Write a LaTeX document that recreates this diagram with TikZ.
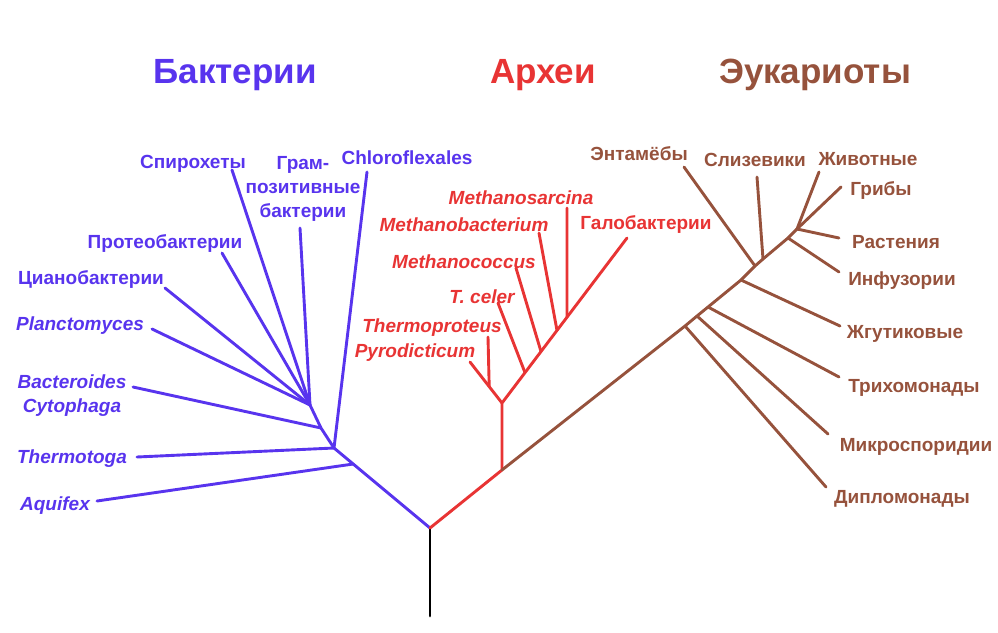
\documentclass[tikz,border=0pt]{standalone}
\usepackage{fontspec}
\setmainfont{Liberation Sans}
\usetikzlibrary{calc}
\definecolor{bactcol}{RGB}{88,52,238}
\definecolor{archcol}{RGB}{232,52,52}
\definecolor{eukcol}{RGB}{150,82,60}
\tikzset{
  branch/.style={line width=2.9pt, line cap=round, line join=round},
  taxon/.style={font=\fontsize{19}{24}\selectfont\bfseries, inner sep=0pt, align=center, yshift=-2.5pt},
  latin/.style={taxon, font=\fontsize{19}{24}\selectfont\bfseries\itshape},
  kingdomtitle/.style={font=\fontsize{35}{40}\selectfont\bfseries, inner sep=0pt, yshift=-4pt}
}

\begin{document}
\begin{tikzpicture}[x=1pt,y=-1pt]
    \useasboundingbox (0,0) rectangle (998,632);
    %
    \node[kingdomtitle, text=bactcol] (bact) at (235,71) {Бактерии};
    \node[kingdomtitle, text=archcol] (arch) at (543,71) {Археи};
    \node[kingdomtitle, text=eukcol]  (euk)  at (815,71) {Эукариоты};
    %
    % stem
    \coordinate (base) at (430,616);
    \coordinate (root) at (430,528);
    \draw[branch, black] (base)--(root);
    %
    % bacteria
    \coordinate (b1) at (334,448);
    \coordinate (b0) at ($(root)!0.8!(b1)$);
    \coordinate (b2) at (321,428);
    \coordinate (b3) at (310,405);
    \coordinate (spiro)   at (232,170);
    \coordinate (gram)    at (300,228);
    \coordinate (chloro)  at (367,172);
    \coordinate (proteo)  at (222,253);
    \coordinate (cyano)   at (165,288);
    \coordinate (plancto) at (152,329);
    \coordinate (bactero) at (133,387);
    \coordinate (thermo)  at (137,457);
    \coordinate (aquif)   at (97,501);
    \draw[branch, bactcol] (root)--(b1)--(b2)--(b3);
    \draw[branch, bactcol] (b0)--(aquif);
    \draw[branch, bactcol] (b1)--(thermo);
    \draw[branch, bactcol] (b1)--(chloro);
    \draw[branch, bactcol] (b2)--(bactero);
    \draw[branch, bactcol] (b3)--(gram);
    \draw[branch, bactcol] (b3)--(spiro);
    \draw[branch, bactcol] (b3)--(proteo);
    \draw[branch, bactcol] (b3)--(cyano);
    \draw[branch, bactcol] (b3)--(plancto);
    %
    \node[taxon, text=bactcol] (n-spiro)   at (193,161) {Спирохеты};
    \node[taxon, text=bactcol] (n-gram)    at (303,186) {Грам-\\позитивные\\бактерии};
    \node[taxon, text=bactcol] (n-chloro)  at (407,155) {Chloroflexales};
    \node[taxon, text=bactcol] (n-proteo)  at (165,241) {Протеобактерии};
    \node[taxon, text=bactcol] (n-cyano)   at (91,277) {Цианобактерии};
    \node[latin, text=bactcol] (n-plancto) at (80,323) {Planctomyces};
    \node[latin, text=bactcol] (n-bactero) at (72,393) {Bacteroides\\Cytophaga};
    \node[latin, text=bactcol] (n-thermo)  at (72,456) {Thermotoga};
    \node[latin, text=bactcol] (n-aquif)   at (55,503) {Aquifex};
    %
    % archaea
    \coordinate (a0) at (502,470);
    \coordinate (a1) at (502,403);
    \coordinate (halo)   at (627,238);
    \coordinate (pyro)   at (470,362);
    \coordinate (tprot)  at (488,337);
    \coordinate (celer)  at (498,303);
    \coordinate (mcocc)  at (516,268);
    \coordinate (mbact)  at (539,233);
    \coordinate (msarc)  at (567,208);
    \draw[branch, archcol] (root)--(a0)--(a1)--(halo);
    \draw[branch, archcol] (a1)--(pyro);
    \draw[branch, archcol] ($(a1)!0.4!(pyro)$)--(tprot);
    \draw[branch, archcol] ($(a1)!0.184!(halo)$)--(celer);
    \draw[branch, archcol] ($(a1)!0.312!(halo)$)--(mcocc);
    \draw[branch, archcol] ($(a1)!0.44!(halo)$)--(mbact);
    \draw[branch, archcol] ($(a1)!0.52!(halo)$)--(msarc);
    %
    \node[latin, text=archcol] (n-msarc) at (521,195) {Methanosarcina};
    \node[latin, text=archcol] (n-mbact) at (464,222) {Methanobacterium};
    \node[taxon, text=archcol] (n-halo)  at (646,222) {Галобактерии};
    \node[latin, text=archcol] (n-mcocc) at (464,259) {Methanococcus};
    \node[latin, text=archcol] (n-celer) at (482,294) {T. celer};
    \node[latin, text=archcol] (n-tprot) at (432,325) {Thermoproteus};
    \node[latin, text=archcol] (n-pyro)  at (415,350) {Pyrodicticum};
    %
    % eukaryotes
    \coordinate (e1) at (685,326);
    \coordinate (e2) at (697,316);
    \coordinate (e3) at (708,307);
    \coordinate (e4) at (741,280);
    \coordinate (e5) at (755,266);
    \coordinate (e6) at (763,259);
    \coordinate (e7) at (788,238);
    \coordinate (e8) at (797,229);
    \coordinate (diplo)  at (826,487);
    \coordinate (micro)  at (828,434);
    \coordinate (tricho) at (839,377);
    \coordinate (flag)   at (840,326);
    \coordinate (entam)  at (684,167);
    \coordinate (slime)  at (757,177);
    \coordinate (infus)  at (839,272);
    \coordinate (plant)  at (839,238);
    \coordinate (fungi)  at (841,187);
    \coordinate (animal) at (819,172);
    \draw[branch, eukcol] (a0)--(e1)--(e2)--(e3)--(e4)--(e5)--(e6)--(e7)--(e8);
    \draw[branch, eukcol] (e1)--(diplo);
    \draw[branch, eukcol] (e2)--(micro);
    \draw[branch, eukcol] (e3)--(tricho);
    \draw[branch, eukcol] (e4)--(flag);
    \draw[branch, eukcol] (e5)--(entam);
    \draw[branch, eukcol] (e6)--(slime);
    \draw[branch, eukcol] (e7)--(infus);
    \draw[branch, eukcol] (e8)--(plant);
    \draw[branch, eukcol] (e8)--(fungi);
    \draw[branch, eukcol] (e8)--(animal);
    %
    \node[taxon, text=eukcol] (n-entam)  at (639,151) {Энтамёбы};
    \node[taxon, text=eukcol] (n-slime)  at (755,157) {Слизевики};
    \node[taxon, text=eukcol] (n-animal) at (868,157) {Животные};
    \node[taxon, text=eukcol] (n-fungi)  at (881,188) {Грибы};
    \node[taxon, text=eukcol] (n-plant)  at (896,240) {Растения};
    \node[taxon, text=eukcol] (n-infus)  at (902,278) {Инфузории};
    \node[taxon, text=eukcol] (n-flag)   at (905,331) {Жгутиковые};
    \node[taxon, text=eukcol] (n-tricho) at (914,385) {Трихомонады};
    \node[taxon, text=eukcol] (n-micro)  at (916,444) {Микроспоридии};
    \node[taxon, text=eukcol] (n-diplo)  at (902,496) {Дипломонады};
\end{tikzpicture}
\end{document}
